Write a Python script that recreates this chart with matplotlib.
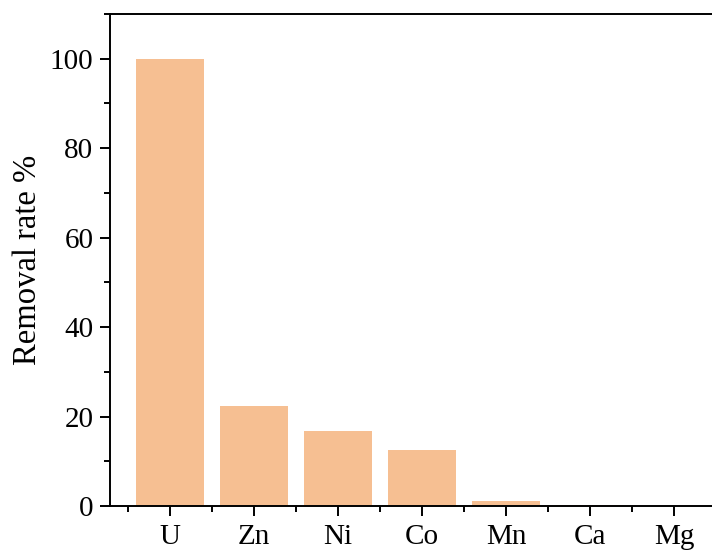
import matplotlib
matplotlib.use("Agg")
import matplotlib.pyplot as plt
from matplotlib.ticker import MultipleLocator, FixedLocator

categories = ["U", "Zn", "Ni", "Co", "Mn", "Ca", "Mg"]
removal = [100.0, 22.4, 16.8, 12.6, 1.1, 0.3, 0.1]

plt.rcParams['font.family'] = ['Liberation Serif', 'DejaVu Serif']

fig = plt.figure(figsize=(7.12, 5.52), dpi=100)
W, H = 712, 552
left, right, top, bottom = 110, 750, 14, 506
ax = fig.add_axes([left / W, 1 - bottom / H, (right - left) / W, (bottom - top) / H])

x = list(range(len(categories)))
ax.bar(x, removal, width=0.82, color='#F6BF92', zorder=2)

ax.set_xlim(-0.714, -0.714 + (right - left) / 84.0)
ax.set_ylim(0, 110)
ax.set_xticks(x)
ax.set_xticklabels(categories)
ax.xaxis.set_minor_locator(FixedLocator([i - 0.5 for i in range(len(categories) + 1)]))
ax.yaxis.set_major_locator(MultipleLocator(20))
ax.yaxis.set_minor_locator(MultipleLocator(10))

for s in ['left', 'bottom', 'top', 'right']:
    ax.spines[s].set_linewidth(1.4)

ax.tick_params(axis='both', which='major', direction='out', length=7, width=1.4, labelsize=21)
ax.tick_params(axis='both', which='minor', direction='out', length=4, width=1.4)
ax.tick_params(axis='y', which='major', pad=5)
ax.tick_params(axis='x', which='major', pad=6)

ax.set_ylabel('Removal rate %', fontsize=23.5, labelpad=5)

fig.savefig('out.png', dpi=100)
